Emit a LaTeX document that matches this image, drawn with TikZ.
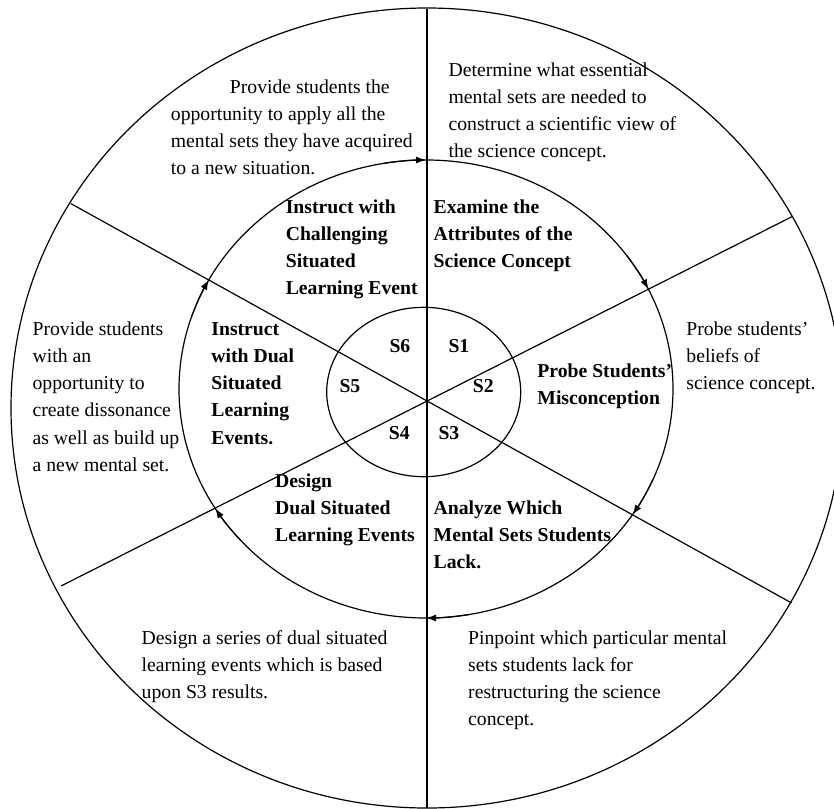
\documentclass[tikz,border=0pt]{standalone}
\usepackage{fontspec}
\setmainfont{Liberation Serif}
\usetikzlibrary{arrows.meta}
\begin{document}
\begin{tikzpicture}[x=1pt,y=-1pt,
  txt/.style={anchor=base west, align=left, inner sep=0pt, font=\fontsize{19.7}{27.3}\selectfont},
  btxt/.style={txt, font=\fontsize{19.7}{27.3}\selectfont\bfseries},
  ln/.style={line width=1.2pt},
  cyc/.style={ln, -{Latex[length=10pt,width=7pt]}}]
\useasboundingbox (0,0) rectangle (834,808);
\clip (0,0) rectangle (834,808);
% circles
\draw[ln] (427,408) ellipse[x radius=416, y radius=400];
\draw[ln] (426,389) ellipse[x radius=247, y radius=229];
\draw[ln] (423.7,392) ellipse[x radius=97, y radius=84.7];
% spokes
\coordinate (vt) at (427,8.8);
\coordinate (vb) at (427,808);
\coordinate (ul) at (70.7,203.5);
\coordinate (lr) at (791.5,602.9);
\coordinate (ll) at (61.2,585.9);
\coordinate (ur) at (792.5,216.4);
\draw[ln] (vt) -- (vb);
\draw[ln] (ul) -- (lr);
\draw[ln] (ll) -- (ur);
% cycle arrows on middle circle
\foreach \t in {-90,-25.8,33.3,90,148.6,208.5}{
  \draw[cyc] (426,389) ++(\t-10:247 and 229) arc[start angle=\t-10, end angle=\t, x radius=247, y radius=229];
}
% outer texts (anchor = baseline of last line)
\node[txt] (t6) at (170.7,174.9) {\hspace*{59pt}Provide students the\\opportunity to apply all the\\mental sets they have acquired\\to a new situation.};
\node[txt] (t1) at (448.4,157.9) {Determine what essential\\mental sets are needed to\\construct a scientific view of\\the science concept.};
\node[txt] (t2) at (686.2,389.6) {Probe students’\\beliefs of\\science concept.};
\node[txt] (t5) at (32.4,471.5) {Provide students\\with an\\opportunity to\\create dissonance\\as well as build up\\a new mental set.};
\node[txt] (t4) at (141.5,698.6) {Design a series of dual situated\\learning events which is based\\upon S3 results.};
\node[txt] (t3) at (468,725.9) {Pinpoint which particular mental\\sets students lack for\\restructuring the science\\concept.};
% middle ring texts
\node[btxt] (b6) at (285.6,294.9) {Instruct with\\Challenging\\Situated\\Learning Event};
\node[btxt] (b1) at (433.5,267.6) {Examine the\\Attributes of the\\Science Concept};
\node[btxt] (b5) at (211.2,444.2) {Instruct\\with Dual\\Situated\\Learning\\Events.};
\node[btxt] (b2) at (537.2,404.3) {Probe Students’\\Misconception};
\node[btxt] (b4) at (275,541.6) {Design\\Dual Situated\\Learning Events};
\node[btxt] (b3) at (433.5,568.6) {Analyze Which\\Mental Sets Students\\Lack.};
% step labels
\node[btxt] (s6) at (389.3,352.3) {S6};
\node[btxt] (s1) at (448.3,352.3) {S1};
\node[btxt] (s5) at (339.3,392.7) {S5};
\node[btxt] (s2) at (472.7,392.7) {S2};
\node[btxt] (s4) at (388.7,439) {S4};
\node[btxt] (s3) at (438.3,439) {S3};
\end{tikzpicture}
\end{document}
